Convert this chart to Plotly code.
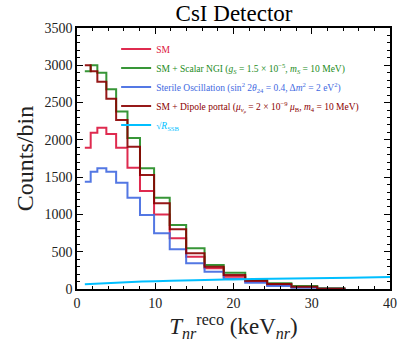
import plotly.graph_objects as go

# bin edges in keV_nr
edges = [1.0, 1.75, 2.6, 3.75, 5.0, 6.45, 8.05, 9.85, 11.85, 13.95, 16.3, 18.75,
         21.5, 24.3, 27.4, 30.7, 34.3]

sm = [1895, 2096, 2163, 2079, 1895, 1627, 1314, 1000, 680, 433, 278, 165, 100, 55, 22, 5]
scalar_ngi = [2920, 3000, 2900, 2680, 2380, 2025, 1620, 1225, 858, 546, 322, 219, 120, 76, 40, 9]
sterile = [1439, 1573, 1618, 1573, 1425, 1224, 992, 747, 532, 345, 232, 135, 85, 40, 17, 3]
dipole = [3000, 2920, 2780, 2550, 2266, 1908, 1529, 1149, 800, 479, 299, 188, 112, 67, 31, 3]

ssb_x = [1, 5, 10, 15, 20, 25, 30, 35, 40]
ssb_y = [65, 85, 105, 118, 128, 137, 145, 152, 160]

SERIF = "Liberation Serif"


def lab(text, color):
    return f'<span style="color:{color}">{text}</span>'


fig = go.Figure()

hists = [
    (sm, "#DC143C", "SM"),
    (scalar_ngi, "#228B22",
     "SM + Scalar NGI (<i>g<sub>S</sub></i> = 1.5 × 10<sup>−5</sup>, <i>m<sub>S</sub></i> = 10 MeV)"),
    (sterile, "#4169E1",
     "Sterile Oscillation (sin<sup>2</sup> 2<i>θ</i><sub>24</sub> = 0.4, Δ<i>m</i><sup>2</sup> = 2 eV<sup>2</sup>)"),
    (dipole, "#8B0000",
     "SM + Dipole portal (<i>μ<sub>ν<sub>μ</sub></sub></i> = 2 × 10<sup>−9</sup> <i>μ</i><sub>B</sub>, <i>m</i><sub>4</sub> = 10 MeV)"),
]

for vals, color, name in hists:
    fig.add_trace(go.Scatter(x=edges, y=vals + [vals[-1]], mode="lines",
                             line=dict(color=color, width=2, shape="hv"),
                             opacity=0.9, name=lab(name, color)))

fig.add_trace(go.Scatter(x=ssb_x, y=ssb_y, mode="lines",
                         line=dict(color="#00BFFF", width=2, shape="spline"),
                         name=lab("√<i>R</i><sub>SSB</sub>", "#00BFFF")))

axis_common = dict(showline=True, linecolor="black", linewidth=1.5, mirror="allticks",
                   ticks="inside", ticklen=6, tickwidth=1.2, tickcolor="black",
                   showgrid=False, zeroline=False, automargin=False,
                   tickfont=dict(family=SERIF, size=14, color="#222"))

fig.update_xaxes(range=[0, 40], dtick=10,
                 minor=dict(ticks="inside", dtick=2, ticklen=3, tickcolor="black"),
                 title=dict(text="<i>T</i><sub><i>nr</i></sub><sup>reco</sup> (keV<sub><i>nr</i></sub>)",
                            font=dict(family=SERIF, size=23, color="#222"), standoff=5),
                 **axis_common)
fig.update_yaxes(range=[0, 3500], dtick=500,
                 minor=dict(ticks="inside", dtick=100, ticklen=3, tickcolor="black"),
                 title=dict(text="Counts/bin", font=dict(family=SERIF, size=24, color="#222"),
                            standoff=4),
                 **axis_common)

fig.update_layout(
    width=407, height=352,
    margin=dict(l=77, r=17, t=28, b=63, autoexpand=False),
    plot_bgcolor="white", paper_bgcolor="white",
    title=dict(text="CsI Detector", x=0.575, xanchor="center", y=0.985, yanchor="top",
               font=dict(family=SERIF, size=23, color="black")),
    legend=dict(x=0.125, y=0.975, xanchor="left", yanchor="top",
                bgcolor="rgba(0,0,0,0)", font=dict(family=SERIF, size=9.5),
                tracegroupgap=0, itemwidth=30),
)

# drop the browser's default 8px page margin so the figure sits at the page corner
fig.write_html("out.html", config={"displayModeBar": False},
               post_script="document.body.style.margin='0';")
